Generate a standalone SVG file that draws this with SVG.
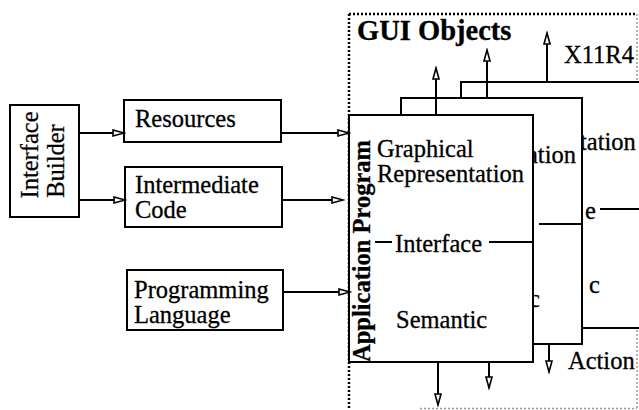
<svg xmlns="http://www.w3.org/2000/svg" width="639" height="410" viewBox="0 0 639 410">
<defs>
<marker id="ah" markerUnits="userSpaceOnUse" markerWidth="14" markerHeight="10" refX="12" refY="4" orient="auto" viewBox="0 0 14 10">
<path d="M1,1 L12,4 L1,7 Z" fill="#fff" stroke="#000" stroke-width="1.6"/>
</marker>
</defs>
<style>
.box{fill:#fff;stroke:#000;stroke-width:2}
.t{font-family:"Liberation Serif","Times New Roman",serif;font-size:24.5px;fill:#000;stroke:#000;stroke-width:0.3}
.b{font-weight:bold}
.ln{stroke:#000;stroke-width:2;fill:none}
.ar{stroke:#000;stroke-width:2;fill:none;marker-end:url(#ah)}
.dot{stroke:#000;stroke-width:2.5;stroke-dasharray:2 2;fill:none}
.dotl{stroke:#999;stroke-width:1.5;stroke-dasharray:2 2;fill:none}
</style>
<rect width="639" height="410" fill="#fff"/>
<g id="gui-objects">
<path class="dot" d="M349,14 H637"/>
<path class="dot" d="M349,14 V410"/>
<path class="dotl" d="M637,14 V408 M420,408.5 H637"/>
<text class="t b" x="357" y="40" style="font-size:28.5px">GUI Objects</text>
<text class="t" x="564" y="63">X11R4</text>
<text class="t" x="568" y="369">Action</text>
</g>
<g id="interface-builder">
<rect class="box" x="10" y="105" width="69" height="112"/>
<text class="t" text-anchor="middle" transform="translate(38,155) rotate(-90)">Interface</text>
<text class="t" text-anchor="middle" transform="translate(64,161) rotate(-90)">Builder</text>
</g>
<g id="resources">
<rect class="box" x="124" y="100" width="157" height="42"/>
<text class="t" x="135" y="127">Resources</text>
</g>
<g id="intermediate-code">
<rect class="box" x="125" y="167" width="157" height="60"/>
<text class="t" x="135" y="193">Intermediate</text>
<text class="t" x="135" y="218">Code</text>
</g>
<g id="programming-language">
<rect class="box" x="127" y="270" width="156" height="60"/>
<text class="t" x="134" y="298">Programming</text>
<text class="t" x="134" y="323">Language</text>
</g>
<g id="gui-object-3">
<rect class="box" x="461" y="82" width="220" height="246"/>
<text class="t" x="580" y="150">tation</text>
<text class="t" x="585" y="219">e</text>
<path class="ln" d="M600,209 H639"/>
<text class="t" x="589" y="293">c</text>
</g>
<g id="gui-object-2">
<rect class="box" x="401" y="98" width="181" height="246"/>
<text class="t" x="527" y="163">ation</text>
<path class="ln" d="M539,224 H582"/>
<text class="t" x="529" y="307">c</text>
</g>
<g id="application-program">
<rect class="box" x="349" y="115" width="184" height="247"/>
<text class="t b" text-anchor="middle" transform="translate(370,251) rotate(-90)">Application Program</text>
<text class="t" x="377" y="157">Graphical</text>
<text class="t" x="377" y="182">Representation</text>
<path class="ln" d="M375,242 H392 M489,242 H533"/>
<text class="t" x="395" y="252">Interface</text>
<text class="t" x="396" y="328">Semantic</text>
</g>
<g id="connectors">
<path class="ar" d="M79,133 H124"/>
<path class="ar" d="M79,200 H125"/>
<path class="ar" d="M281,133 H349"/>
<path class="ar" d="M282,200 H343"/>
<path class="ar" d="M283,292 H350"/>
<path class="ar" d="M436,115 V68"/>
<path class="ar" d="M487,98 V50"/>
<path class="ar" d="M547,82 V33"/>
<path class="ar" d="M438,362 V405"/>
<path class="ar" d="M489,362 V388"/>
<path class="ar" d="M549,344 V372"/>
</g>
</svg>
